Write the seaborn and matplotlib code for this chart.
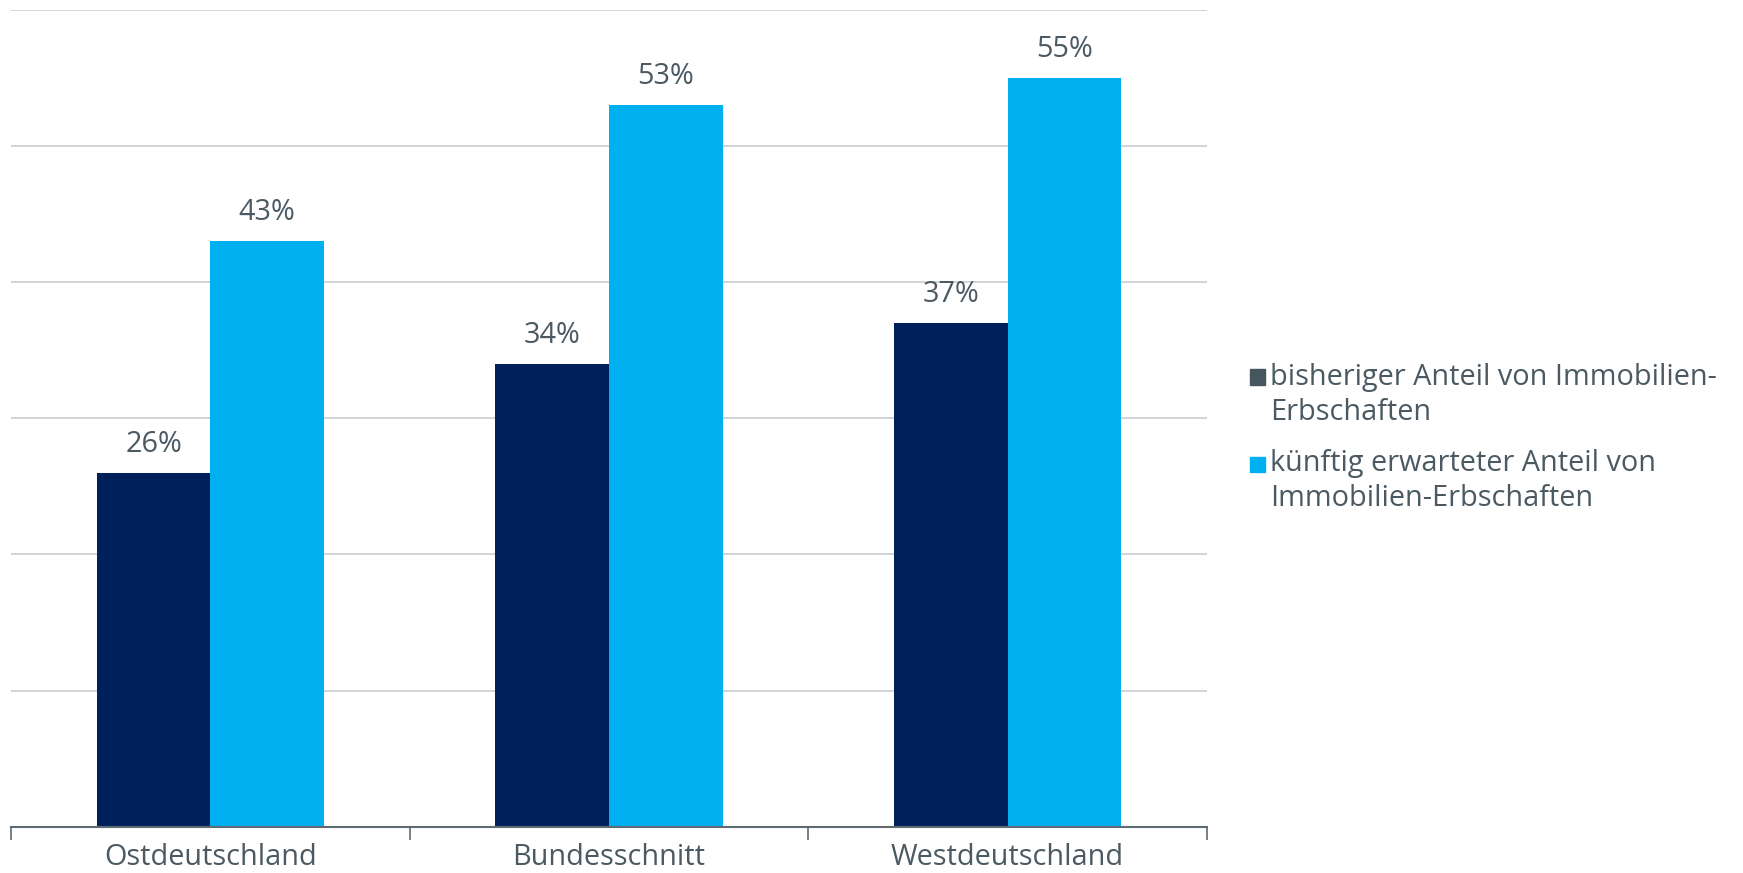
import pandas as pd
import seaborn as sns
import matplotlib.pyplot as plt
from matplotlib.patches import Rectangle
from matplotlib.ticker import FixedLocator, NullFormatter

regions = ['Ostdeutschland', 'Bundesschnitt', 'Westdeutschland']
bisher = [26, 34, 37]
kuenftig = [43, 53, 55]
series = ['bisheriger Anteil von Immobilien-\nErbschaften',
          'künftig erwarteter Anteil von\nImmobilien-Erbschaften']

navy = '#00205b'
cyan = '#00b0f0'
txt = '#4b5a62'
fs = 20.8

df = pd.DataFrame({
    'region': regions * 2,
    'wert': bisher + kuenftig,
    'serie': [series[0]] * 3 + [series[1]] * 3,
})

sns.set_style('white')
plt.rcParams['font.family'] = ['Open Sans', 'DejaVu Sans']

W, H = 1743, 873
fig = plt.figure(figsize=(W / 100, H / 100), dpi=100)
ax = fig.add_axes([0.0064, 0.053, 0.686, 0.9356])

sns.barplot(data=df, x='region', y='wert', hue='serie', order=regions,
            palette=[navy, cyan], width=0.57, saturation=1, ax=ax, legend=False,
            linewidth=0)

for cont in ax.containers:
    ax.bar_label(cont, labels=[f'{v:.0f}%' for v in cont.datavalues],
                 padding=10, fontsize=fs, color=txt)

ax.set_ylim(0, 60)
ax.set_xlim(-0.5, 2.5)
ax.set_yticks(range(0, 61, 10))
ax.set_yticklabels([])
ax.tick_params(axis='y', length=0)
ax.yaxis.grid(True, color='#c8cdd0', linewidth=1.2)
ax.set_axisbelow(True)
for s in ['top', 'right', 'left']:
    ax.spines[s].set_visible(False)
ax.spines['bottom'].set_color('#5f6b72')
ax.spines['bottom'].set_linewidth(1.5)

ax.set_xlabel('')
ax.set_ylabel('')
ax.tick_params(axis='x', which='major', length=0, labelsize=fs,
               labelcolor=txt, pad=12)
ax.xaxis.set_minor_locator(FixedLocator([-0.5, 0.5, 1.5, 2.5]))
ax.xaxis.set_minor_formatter(NullFormatter())
ax.tick_params(axis='x', which='minor', bottom=True, length=9, width=1.2,
               color='#5f6b72', direction='out')

# legend drawn by hand: square next to the first line of each entry
legend_colors = ['#47555e', cyan]
line_y = [[377, 412], [464, 498]]
for label, col, ys in zip(series, legend_colors, line_y):
    sq = 15
    fig.add_artist(Rectangle((1250 / W, 1 - (ys[0] + sq / 2) / H), sq / W, sq / H,
                             transform=fig.transFigure, color=col))
    for line, y in zip(label.split('\n'), ys):
        fig.text(1270 / W, 1 - y / H, line, fontsize=fs, color=txt,
                 ha='left', va='center')

fig.savefig('out.png', dpi=100)
